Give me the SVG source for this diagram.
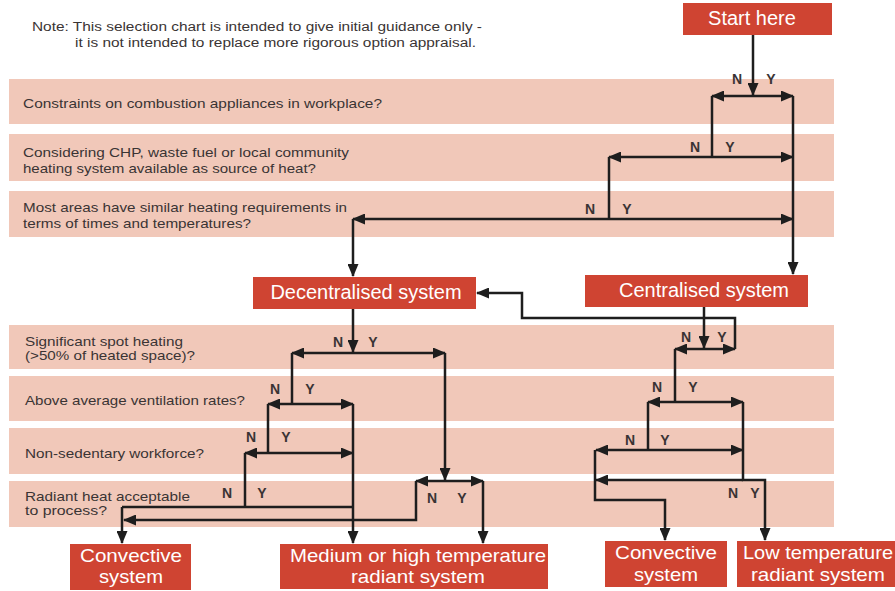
<svg xmlns="http://www.w3.org/2000/svg" width="895" height="591" viewBox="0 0 895 591">
<defs>
<style>
.band{fill:#f1c8b9}
.box{fill:#cf4432}
.q{font-family:"Liberation Sans",Arial,sans-serif;font-size:13.5px;fill:#3a3434}
.note{font-family:"Liberation Sans",Arial,sans-serif;font-size:12.5px;fill:#3a3434}
.bt{font-family:"Liberation Sans",Arial,sans-serif;font-size:20px;fill:#ffffff;text-anchor:middle}
.bt2{font-family:"Liberation Sans",Arial,sans-serif;font-size:18.5px;fill:#ffffff;text-anchor:middle}
.ny{font-family:"Liberation Sans",Arial,sans-serif;font-size:14px;font-weight:bold;fill:#3a3434;text-anchor:middle}
.c{fill:none;stroke:#1e1e1e;stroke-width:2.5}
.a{marker-end:url(#ah)}
</style>
<marker id="ah" viewBox="0 0 13 11" refX="12" refY="5.5" markerWidth="13" markerHeight="11" markerUnits="userSpaceOnUse" orient="auto">
<path d="M0,0 L13,5.5 L0,11 z" fill="#1e1e1e"/>
</marker>
</defs>
<rect width="895" height="591" fill="#ffffff"/>

<g id="note">
<text class="note" x="32" y="31" textLength="450" lengthAdjust="spacingAndGlyphs">Note: This selection chart is intended to give initial guidance only -</text>
<text class="note" x="75" y="47" textLength="401" lengthAdjust="spacingAndGlyphs">it is not intended to replace more rigorous option appraisal.</text>
</g>

<g id="q-combustion">
<rect class="band" x="9" y="79" width="825" height="45"/>
<text class="q" x="23" y="108" textLength="359" lengthAdjust="spacingAndGlyphs">Constraints on combustion appliances in workplace?</text>
</g>
<g id="q-chp">
<rect class="band" x="9" y="134" width="825" height="47"/>
<text class="q" x="23" y="157" textLength="326" lengthAdjust="spacingAndGlyphs">Considering CHP, waste fuel or local community</text>
<text class="q" x="23" y="173" textLength="293" lengthAdjust="spacingAndGlyphs">heating system available as source of heat?</text>
</g>
<g id="q-similar">
<rect class="band" x="9" y="191" width="825" height="46"/>
<text class="q" x="23" y="212" textLength="324" lengthAdjust="spacingAndGlyphs">Most areas have similar heating requirements in</text>
<text class="q" x="23" y="228" textLength="228" lengthAdjust="spacingAndGlyphs">terms of times and temperatures?</text>
</g>
<g id="q-spot">
<rect class="band" x="9" y="325" width="825" height="44"/>
<text class="q" x="25" y="346" textLength="158" lengthAdjust="spacingAndGlyphs">Significant spot heating</text>
<text class="q" x="25" y="360" textLength="170" lengthAdjust="spacingAndGlyphs">(&gt;50% of heated space)?</text>
</g>
<g id="q-ventilation">
<rect class="band" x="9" y="376" width="825" height="45"/>
<text class="q" x="25" y="405" textLength="220" lengthAdjust="spacingAndGlyphs">Above average ventilation rates?</text>
</g>
<g id="q-sedentary">
<rect class="band" x="9" y="428" width="825" height="46"/>
<text class="q" x="25" y="458" textLength="179" lengthAdjust="spacingAndGlyphs">Non-sedentary workforce?</text>
</g>
<g id="q-radiant">
<rect class="band" x="9" y="481" width="825" height="46"/>
<text class="q" x="25" y="501" textLength="165" lengthAdjust="spacingAndGlyphs">Radiant heat acceptable</text>
<text class="q" x="25" y="515" textLength="82" lengthAdjust="spacingAndGlyphs">to process?</text>
</g>

<g id="start">
<rect class="box" x="683" y="3" width="149" height="32"/>
<text class="bt" x="752" y="25">Start here</text>
</g>
<g id="decentralised">
<rect class="box" x="253" y="277" width="223" height="32"/>
<text class="bt" x="366" y="299">Decentralised system</text>
</g>
<g id="centralised">
<rect class="box" x="585" y="275" width="223" height="32"/>
<text class="bt" x="704" y="297">Centralised system</text>
</g>
<g id="convective-left">
<rect class="box" x="70" y="544" width="121" height="46"/>
<text class="bt2" x="131" y="561.5" textLength="102" lengthAdjust="spacingAndGlyphs">Convective</text>
<text class="bt2" x="131" y="583" textLength="64" lengthAdjust="spacingAndGlyphs">system</text>
</g>
<g id="medium-high">
<rect class="box" x="280" y="544" width="268" height="45"/>
<text class="bt2" x="418" y="561.5" textLength="256" lengthAdjust="spacingAndGlyphs">Medium or high temperature</text>
<text class="bt2" x="418" y="583" textLength="134" lengthAdjust="spacingAndGlyphs">radiant system</text>
</g>
<g id="convective-right">
<rect class="box" x="605" y="541" width="122" height="46"/>
<text class="bt2" x="666" y="559" textLength="102" lengthAdjust="spacingAndGlyphs">Convective</text>
<text class="bt2" x="666" y="580.5" textLength="64" lengthAdjust="spacingAndGlyphs">system</text>
</g>
<g id="low-temp">
<rect class="box" x="737" y="541" width="158" height="46"/>
<text class="bt2" x="818" y="559" textLength="150" lengthAdjust="spacingAndGlyphs">Low temperature</text>
<text class="bt2" x="818" y="580.5" textLength="134" lengthAdjust="spacingAndGlyphs">radiant system</text>
</g>

<g id="connectors">
<path class="c a" d="M753,35 V95"/>
<path class="c a" d="M753,96 H712"/>
<path class="c a" d="M753,96 H793"/>
<path class="c" d="M712,96 V157"/>
<path class="c a" d="M793,96 V274"/>
<path class="c a" d="M712,157 H609"/>
<path class="c a" d="M712,157 H793"/>
<path class="c" d="M609,157 V219"/>
<path class="c a" d="M609,219 H353"/>
<path class="c a" d="M609,219 H793"/>
<path class="c a" d="M353,219 V276"/>
<path class="c a" d="M353,309 V352"/>
<path class="c a" d="M353,353 H292"/>
<path class="c a" d="M353,353 H445"/>
<path class="c" d="M292,353 V404"/>
<path class="c a" d="M292,404 H268"/>
<path class="c a" d="M292,404 H353"/>
<path class="c a" d="M353,404 V543"/>
<path class="c" d="M268,404 V453"/>
<path class="c a" d="M268,453 H245"/>
<path class="c a" d="M268,453 H353"/>
<path class="c" d="M245,453 V507"/>
<path class="c" d="M353,507 H122"/>
<path class="c a" d="M122,507 V543"/>
<path class="c a" d="M445,353 V480"/>
<path class="c a" d="M445,481 H416"/>
<path class="c a" d="M445,481 H483"/>
<path class="c a" d="M416,481 V520 H124"/>
<path class="c a" d="M483,481 V543"/>
<path class="c a" d="M704,307 V348"/>
<path class="c a" d="M704,349 H675"/>
<path class="c a" d="M704,349 H735"/>
<path class="c a" d="M735,349 V318 H522 V293 H477"/>
<path class="c" d="M675,349 V402"/>
<path class="c a" d="M675,402 H648"/>
<path class="c a" d="M675,402 H743"/>
<path class="c" d="M648,402 V450"/>
<path class="c a" d="M648,450 H596"/>
<path class="c a" d="M648,450 H743"/>
<path class="c a" d="M743,402 V480 H765 V540"/>
<path class="c a" d="M743,480 H596"/>
<path class="c a" d="M595,450 V500 H665 V540"/>
</g>

<g id="labels">
<text class="ny" x="737" y="84">N</text><text class="ny" x="771" y="84">Y</text>
<text class="ny" x="695" y="152">N</text><text class="ny" x="730" y="152">Y</text>
<text class="ny" x="590" y="214">N</text><text class="ny" x="627" y="214">Y</text>
<text class="ny" x="338" y="347">N</text><text class="ny" x="373" y="347">Y</text>
<text class="ny" x="275" y="394">N</text><text class="ny" x="310" y="394">Y</text>
<text class="ny" x="251" y="442">N</text><text class="ny" x="286" y="442">Y</text>
<text class="ny" x="227" y="498">N</text><text class="ny" x="262" y="498">Y</text>
<text class="ny" x="432" y="503">N</text><text class="ny" x="462" y="503">Y</text>
<text class="ny" x="686" y="342">N</text><text class="ny" x="722" y="342">Y</text>
<text class="ny" x="657" y="392">N</text><text class="ny" x="693" y="392">Y</text>
<text class="ny" x="630" y="445">N</text><text class="ny" x="665" y="445">Y</text>
<text class="ny" x="733" y="498">N</text><text class="ny" x="755" y="498">Y</text>
</g>
</svg>
